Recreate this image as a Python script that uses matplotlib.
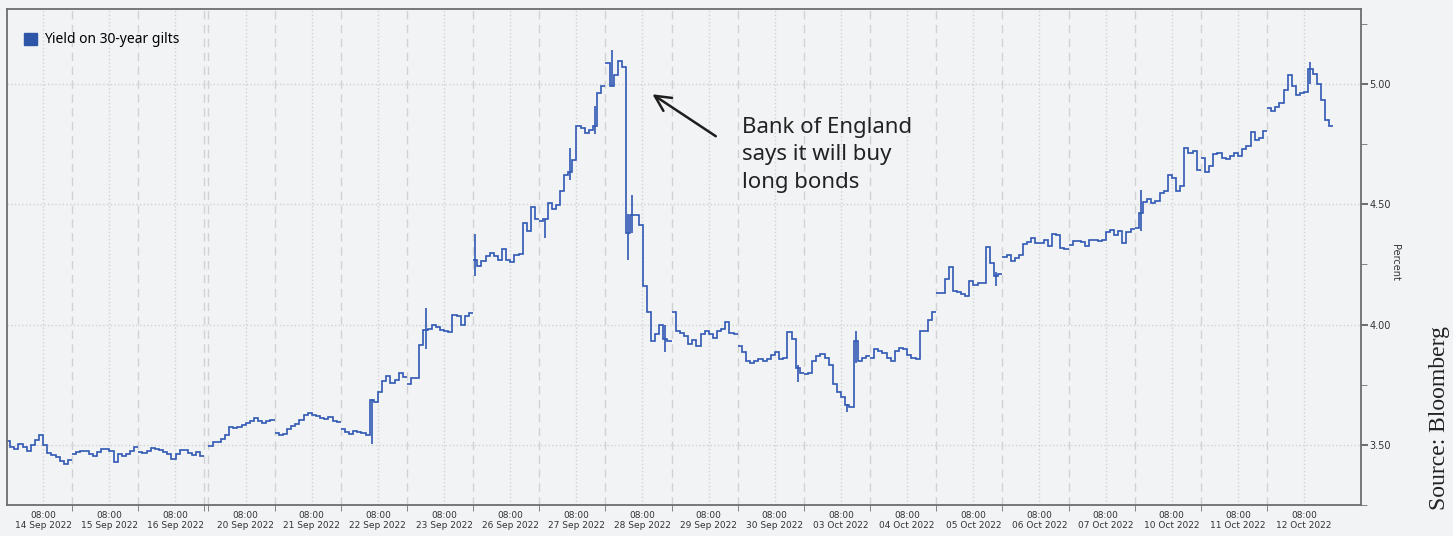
import numpy as np
import matplotlib.pyplot as plt
from matplotlib.patches import Patch

# trading days shown (16 intraday bars per day)
days = ['14 Sep 2022', '15 Sep 2022', '16 Sep 2022', '20 Sep 2022', '21 Sep 2022',
        '22 Sep 2022', '23 Sep 2022', '26 Sep 2022', '27 Sep 2022', '28 Sep 2022',
        '29 Sep 2022', '30 Sep 2022', '03 Oct 2022', '04 Oct 2022', '05 Oct 2022',
        '06 Oct 2022', '07 Oct 2022', '10 Oct 2022', '11 Oct 2022', '12 Oct 2022']

# yield on 30-year gilts, percent
sep14 = [3.515, 3.49, 3.483, 3.505, 3.49, 3.476, 3.50, 3.52, 3.542, 3.50, 3.465, 3.458, 3.448, 3.432, 3.42, 3.435]
sep15 = [3.462, 3.469, 3.473, 3.473, 3.462, 3.455, 3.469, 3.483, 3.483, 3.476, 3.427, 3.462, 3.455, 3.462, 3.476, 3.49]
sep16 = [3.469, 3.466, 3.476, 3.487, 3.483, 3.48, 3.47, 3.462, 3.44, 3.462, 3.48, 3.478, 3.466, 3.458, 3.469, 3.455]
sep20 = [3.497, 3.51, 3.512, 3.525, 3.541, 3.573, 3.57, 3.575, 3.582, 3.59, 3.60, 3.61, 3.60, 3.59, 3.60, 3.605]
sep21 = [3.55, 3.541, 3.545, 3.565, 3.577, 3.585, 3.605, 3.624, 3.632, 3.622, 3.618, 3.612, 3.607, 3.615, 3.60, 3.594]
sep22 = [3.565, 3.552, 3.547, 3.557, 3.552, 3.548, 3.541, 3.686, 3.68, 3.72, 3.766, 3.787, 3.755, 3.77, 3.80, 3.78]
sep23 = [3.752, 3.776, 3.778, 3.915, 3.978, 3.98, 4.00, 3.99, 3.978, 3.972, 3.968, 4.04, 4.035, 4.00, 4.035, 4.049]
sep26 = [4.27, 4.245, 4.262, 4.284, 4.298, 4.285, 4.27, 4.312, 4.27, 4.258, 4.29, 4.292, 4.423, 4.39, 4.49, 4.44]
sep27 = [4.43, 4.437, 4.505, 4.478, 4.498, 4.553, 4.623, 4.635, 4.685, 4.823, 4.815, 4.795, 4.81, 4.823, 4.96, 4.99]
sep28 = [5.086, 4.992, 5.035, 5.093, 5.072, 4.38, 4.457, 4.457, 4.415, 4.16, 4.052, 3.932, 3.959, 4.0, 3.94, 3.932]
sep29 = [4.05, 3.973, 3.966, 3.952, 3.918, 3.935, 3.911, 3.96, 3.973, 3.96, 3.945, 3.975, 3.98, 4.01, 3.966, 3.96]
sep30 = [3.91, 3.885, 3.85, 3.842, 3.849, 3.855, 3.849, 3.856, 3.872, 3.885, 3.856, 3.86, 3.97, 3.94, 3.82, 3.80]
oct03 = [3.794, 3.80, 3.849, 3.87, 3.876, 3.862, 3.83, 3.752, 3.72, 3.70, 3.664, 3.656, 3.93, 3.85, 3.862, 3.87]
oct04 = [3.86, 3.897, 3.89, 3.88, 3.862, 3.85, 3.89, 3.904, 3.897, 3.872, 3.862, 3.856, 3.975, 3.973, 4.02, 4.05]
oct05 = [4.132, 4.132, 4.19, 4.24, 4.139, 4.135, 4.125, 4.118, 4.18, 4.165, 4.172, 4.174, 4.32, 4.257, 4.2, 4.21]
oct06 = [4.28, 4.29, 4.264, 4.278, 4.29, 4.333, 4.342, 4.36, 4.34, 4.338, 4.35, 4.325, 4.374, 4.37, 4.319, 4.315]
oct07 = [4.33, 4.347, 4.345, 4.342, 4.328, 4.352, 4.352, 4.347, 4.353, 4.385, 4.393, 4.37, 4.39, 4.34, 4.385, 4.398]
oct10 = [4.40, 4.464, 4.51, 4.52, 4.505, 4.515, 4.547, 4.553, 4.62, 4.609, 4.553, 4.574, 4.733, 4.712, 4.72, 4.643]
oct11 = [4.69, 4.635, 4.66, 4.71, 4.712, 4.692, 4.688, 4.70, 4.712, 4.70, 4.73, 4.74, 4.80, 4.768, 4.775, 4.805]
oct12 = [4.90, 4.886, 4.905, 4.92, 4.975, 5.037, 4.989, 4.954, 4.96, 4.965, 5.06, 5.04, 5.00, 4.934, 4.848, 4.823]

bars = [sep14, sep15, sep16, sep20, sep21, sep22, sep23, sep26, sep27, sep28,
        sep29, sep30, oct03, oct04, oct05, oct06, oct07, oct10, oct11, oct12]

# intraday high/low spikes: day index, bar index, low, high
wick_day = [5, 6, 7, 8, 8, 8, 9, 9, 9, 9, 11, 12, 12, 14, 17, 19]
wick_bar = [7, 4, 0, 1, 7, 13, 1, 5, 6, 14, 14, 10, 12, 14, 1, 10]
wick_lo = [3.503, 3.90, 4.20, 4.36, 4.60, 4.79, 4.99, 4.27, 4.38, 3.885, 3.76, 3.636, 3.84, 4.16, 4.39, 5.0]
wick_hi = [3.69, 4.07, 4.374, 4.44, 4.733, 4.906, 5.14, 4.46, 4.54, 4.0, 3.83, 3.67, 3.975, 4.22, 4.56, 5.09]

blue = '#3059b4'
bg = '#f2f3f5'
n = 16
idx = np.arange(len(days))
start = idx + np.where(idx >= 3, 0.06, 0.0)   # 19 Sep holiday leaves a double divider

fig = plt.figure(figsize=(14.53, 5.36), dpi=100, facecolor=bg)
ax = fig.add_axes([7 / 1453, 31 / 536, 1354 / 1453, 496 / 536])
ax.set_facecolor(bg)

# grid: dashed day dividers, dotted 08:00 and level lines
for s in list(start[1:]) + [3.0]:
    ax.axvline(s, color='#d2d2d2', ls=(0, (6, 4)), lw=1, zorder=0)
for s in start:
    ax.axvline(s + 0.56, color='#d2d2d2', ls=':', lw=1, zorder=0)
for lvl in [3.5, 4.0, 4.5, 5.0]:
    ax.axhline(lvl, color='#d2d2d2', ls=':', lw=1, zorder=0)

for d, vals in enumerate(bars):
    ax.stairs(vals, start[d] + np.arange(n + 1) / n, baseline=None, color=blue, lw=1.2)
ax.vlines(start[wick_day] + (np.array(wick_bar) + 0.5) / n, wick_lo, wick_hi, color=blue, lw=1.2)

ax.set_xlim(0.015, 20.48)
ax.set_ylim(3.2546, 5.311)

ax.set_xticks(start + 0.56)
ax.set_xticklabels(['08:00\n' + d for d in days], fontsize=6.5, color='#333333')
ax.set_xticks(list(start[1:]) + [3.0], minor=True)
ax.tick_params(axis='x', which='major', length=0, pad=4)
ax.tick_params(axis='x', which='minor', length=4, color='#707070')

ax.yaxis.tick_right()
ax.set_yticks([3.5, 4.0, 4.5, 5.0])
ax.set_yticklabels(['3.50', '4.00', '4.50', '5.00'], fontsize=7, color='#333333')
ax.set_yticks([3.25, 3.75, 4.25, 4.75, 5.25], minor=True)
ax.tick_params(axis='y', which='major', length=5, width=1.2, color='#555555', pad=1)
ax.tick_params(axis='y', which='minor', length=4, color='#707070')

for sp in ax.spines.values():
    sp.set_color('#6e6e6e')
    sp.set_linewidth(1.3)

ax.legend(handles=[Patch(color='#2d55a8', label='Yield on 30-year gilts')],
          loc='upper left', bbox_to_anchor=(0.003, 0.978), frameon=False,
          prop={'family': 'Noto Sans', 'size': 10}, handlelength=0.95, handleheight=0.95,
          handletextpad=0.5)

ax.annotate('', xy=(9.735, 4.963), xytext=(10.763, 4.776),
            arrowprops=dict(arrowstyle='->', lw=1.8, color='#1e1e1e', mutation_scale=28))
ax.text(11.12, 4.862, 'Bank of England\nsays it will buy\nlong bonds', va='top', ha='left',
        fontsize=16, family='Noto Sans', color='#222222', linespacing=1.4)

fig.text(1395 / 1453, 1 - 262 / 536, 'Percent', rotation=-90, fontsize=7,
         ha='center', va='center', color='#333333')
fig.text(1440 / 1453, 1 - 418 / 536, 'Source: Bloomberg', rotation=90, fontsize=17,
         family='Liberation Serif', ha='center', va='center', color='#222222')

fig.savefig('out.png', dpi=100, facecolor=bg)
